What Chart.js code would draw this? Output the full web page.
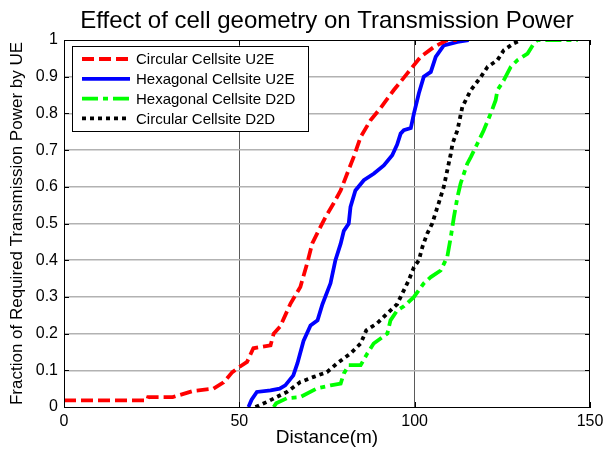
<!DOCTYPE html>
<html>
<head>
<meta charset="utf-8">
<script src="https://cdn.jsdelivr.net/npm/chart.js@4/dist/chart.umd.min.js"></script>
<style>
  html, body { margin: 0; padding: 0; background: #fff; }
  #wrap { width: 604px; height: 453px; }
</style>
</head>
<body>
<div id="wrap"><canvas id="cdf" width="604" height="453"></canvas></div>
<script>
const chartTitle = "Effect of cell geometry on Transmission Power";
const xAxisTitle = "Distance(m)";
const yAxisTitle = "Fraction of Required Transmission Power by UE";

const xTicks = [0, 50, 100, 150];
const yTicks = [0, 0.1, 0.2, 0.3, 0.4, 0.5, 0.6, 0.7, 0.8, 0.9, 1];

const seriesLabels = [
  "Circular Cellsite U2E",
  "Hexagonal Cellsite U2E",
  "Hexagonal Cellsite D2D",
  "Circular Cellsite D2D",
];

// Circular Cellsite U2E (red, dashed)
const circU2E_x = [0, 23.7, 24, 31, 37, 42.6, 45.5, 48, 50, 52.2, 54, 58.9, 59.8, 61.7, 64.6, 67.4, 69.3, 70.8,
  73.1, 74.6, 76.9, 78.9, 80.8, 82.6, 84.6, 87.4, 90.3, 94, 97.9, 101.7, 105.5, 109.3, 112];
const circU2E_y = [0.018, 0.018, 0.027, 0.027, 0.044, 0.05, 0.067, 0.095, 0.109, 0.123, 0.16, 0.168, 0.2, 0.22,
  0.282, 0.327, 0.39, 0.446, 0.49, 0.518, 0.555, 0.59, 0.637, 0.681, 0.736, 0.781, 0.815, 0.863, 0.909, 0.954,
  0.981, 1, 1];

// Hexagonal Cellsite U2E (blue, solid)
const hexU2E_x = [52.6, 53.5, 55, 58.9, 61.5, 63.1, 65.4, 66.6, 68.3, 70.3, 72.3, 73.7, 76, 77.4, 78.9, 79.8,
  81.2, 81.7, 83.1, 85.5, 88.4, 91.2, 93.6, 95, 96, 96.9, 98.9, 99.8, 101.2, 102.6, 104.6, 106, 108.3, 112.2, 115.4];
const hexU2E_y = [0, 0.02, 0.041, 0.045, 0.05, 0.059, 0.086, 0.12, 0.18, 0.222, 0.236, 0.28, 0.337, 0.4, 0.445,
  0.48, 0.5, 0.545, 0.59, 0.618, 0.636, 0.658, 0.686, 0.715, 0.745, 0.754, 0.76, 0.8, 0.855, 0.9, 0.913, 0.954,
  0.985, 0.995, 1];

// Hexagonal Cellsite D2D (green, dash-dot)
const hexD2D_x = [59.8, 60.5, 63.6, 67.4, 72.2, 76, 78.9, 79.8, 81.2, 84.6, 86.5, 88.3, 92.2, 93.1, 95, 97, 99.8,
  102.6, 104.6, 107.4, 109.3, 110.3, 111.2, 112.2, 113.1, 115, 116, 117.9, 119.7, 121.7, 123.1, 123.6, 125.4,
  127.4, 129.3, 132.2, 134, 135, 146.5];
const hexD2D_y = [0, 0.01, 0.024, 0.027, 0.051, 0.059, 0.064, 0.091, 0.114, 0.114, 0.146, 0.173, 0.2, 0.236,
  0.263, 0.275, 0.3, 0.337, 0.354, 0.372, 0.409, 0.463, 0.518, 0.572, 0.609, 0.663, 0.681, 0.718, 0.754, 0.8,
  0.836, 0.863, 0.89, 0.927, 0.945, 0.963, 0.991, 1, 1];

// Circular Cellsite D2D (black, dotted)
const circD2D_x = [54.6, 57.9, 63.6, 67.4, 71.2, 75, 77.9, 81.7, 84.6, 86.2, 89.3, 92.2, 95, 96, 98.3, 99.8,
  101.2, 102.2, 103.6, 105, 106.5, 107.4, 108.3, 109.3, 110.3, 110.8, 112.2, 113.6, 116, 118.9, 120.8, 123.6,
  125.4, 128.3, 130.3];
const circD2D_y = [0, 0.014, 0.041, 0.068, 0.082, 0.095, 0.119, 0.146, 0.173, 0.209, 0.228, 0.255, 0.28, 0.3,
  0.345, 0.381, 0.4, 0.436, 0.473, 0.5, 0.545, 0.572, 0.6, 0.645, 0.69, 0.718, 0.754, 0.818, 0.863, 0.9, 0.927,
  0.945, 0.972, 0.991, 1];

const FONT = "'Liberation Sans', Arial, sans-serif";

function toPoints(xs, ys) {
  return xs.map((x, i) => ({ x: x, y: ys[i] }));
}

function lineSet(label, xs, ys, color, dash) {
  return {
    label: label,
    data: toPoints(xs, ys),
    borderColor: color,
    backgroundColor: color,
    borderWidth: 3.8,
    borderDash: dash,
    borderCapStyle: "butt",
    borderJoinStyle: "miter",
    pointRadius: 0,
    fill: false,
    tension: 0,
  };
}

// MATLAB style frame: top/right border and inward tick marks
const framePlugin = {
  id: "frame",
  afterDraw(chart) {
    const { ctx, chartArea: a, scales } = chart;
    ctx.save();
    ctx.strokeStyle = "#000";
    ctx.lineWidth = 1;
    ctx.strokeRect(a.left + 0.5, a.top + 0.5, a.right - a.left - 1, a.bottom - a.top);
    ctx.beginPath();
    yTicks.forEach((v) => {
      const py = Math.round(scales.y.getPixelForValue(v)) + 0.5;
      ctx.moveTo(a.left, py); ctx.lineTo(a.left + 5, py);
      ctx.moveTo(a.right, py); ctx.lineTo(a.right - 5, py);
    });
    xTicks.forEach((v) => {
      const px = Math.round(scales.x.getPixelForValue(v)) + 0.5;
      ctx.moveTo(px, a.bottom); ctx.lineTo(px, a.bottom - 5);
      ctx.moveTo(px, a.top); ctx.lineTo(px, a.top + 5);
    });
    ctx.stroke();

    // title centred over the axes
    ctx.fillStyle = "#000";
    ctx.font = "24px " + FONT;
    ctx.textAlign = "center";
    ctx.textBaseline = "alphabetic";
    ctx.fillText(chartTitle, (a.left + a.right) / 2, 28);
    ctx.restore();
  },
};

// boxed legend inside the axes, top-left
const boxLegendPlugin = {
  id: "boxLegend",
  afterDraw(chart) {
    const { ctx, chartArea: a } = chart;
    const left = a.left + 8;
    const top = a.top + 6;
    const w = 236;
    const h = 85;
    ctx.save();
    ctx.fillStyle = "#fff";
    ctx.fillRect(left, top, w, h);
    ctx.strokeStyle = "#000";
    ctx.lineWidth = 1;
    ctx.strokeRect(left + 0.5, top + 0.5, w, h);
    ctx.font = "15px " + FONT;
    ctx.textAlign = "left";
    ctx.textBaseline = "middle";
    chart.data.datasets.forEach((ds, i) => {
      const y = top + 13 + i * 19.8;
      ctx.beginPath();
      ctx.strokeStyle = ds.borderColor;
      ctx.lineWidth = ds.borderWidth;
      ctx.lineCap = "butt";
      ctx.setLineDash(ds.borderDash || []);
      ctx.moveTo(left + 10, y);
      ctx.lineTo(left + 58, y);
      ctx.stroke();
      ctx.setLineDash([]);
      ctx.fillStyle = "#000";
      ctx.fillText(ds.label, left + 64, y + 1);
    });
    ctx.restore();
  },
};

const chart = new Chart(document.getElementById("cdf"), {
  type: "line",
  data: {
    datasets: [
      lineSet(seriesLabels[0], circU2E_x, circU2E_y, "#ff0000", [12, 5]),
      lineSet(seriesLabels[1], hexU2E_x, hexU2E_y, "#0000ff", []),
      lineSet(seriesLabels[2], hexD2D_x, hexD2D_y, "#00ff00", [16, 5, 5, 5]),
      lineSet(seriesLabels[3], circD2D_x, circD2D_y, "#000000", [4, 4]),
    ],
  },
  options: {
    responsive: false,
    animation: false,
    layout: { padding: { top: 40, right: 14, left: 0, bottom: 0 } },
    plugins: {
      legend: { display: false },
      title: { display: false },
      tooltip: { enabled: false },
    },
    scales: {
      x: {
        type: "linear",
        min: 0,
        max: 150,
        afterBuildTicks: (scale) => { scale.ticks = xTicks.map((v) => ({ value: v })); },
        afterFit: (scale) => {
          scale.height = 46;
          scale.paddingLeft = 0;
          scale.paddingRight = 0;
        },
        ticks: {
          color: "#000",
          padding: 5,
          font: { family: FONT, size: 16 },
          maxRotation: 0,
          callback: (v) => String(v),
        },
        grid: {
          drawTicks: false,
          color: (c) => (c.tick && (c.tick.value === 0 || c.tick.value === 150) ? "rgba(0,0,0,0)" : "#5a5a5a"),
          lineWidth: 1,
        },
        border: { display: true, color: "#000", width: 1 },
        title: {
          display: true,
          text: xAxisTitle,
          color: "#000",
          font: { family: FONT, size: 19 },
          padding: { top: 0, bottom: 4 },
        },
      },
      y: {
        type: "linear",
        min: 0,
        max: 1,
        afterBuildTicks: (scale) => { scale.ticks = yTicks.map((v) => ({ value: v })); },
        afterFit: (scale) => {
          scale.width = 64;
          scale.paddingTop = 0;
          scale.paddingBottom = 0;
        },
        ticks: {
          color: "#000",
          padding: 6,
          font: { family: FONT, size: 16 },
          callback: (v) => String(v),
        },
        grid: {
          drawTicks: false,
          color: (c) => (c.tick && (c.tick.value === 0 || c.tick.value === 1) ? "rgba(0,0,0,0)" : "#b2b2b2"),
          lineWidth: 1.6,
        },
        border: { display: true, color: "#000", width: 1 },
        title: {
          display: true,
          text: yAxisTitle,
          color: "#000",
          font: { family: FONT, size: 17 },
          padding: { top: 7, bottom: 0 },
        },
      },
    },
  },
  plugins: [framePlugin, boxLegendPlugin],
});
</script>
</body>
</html>
